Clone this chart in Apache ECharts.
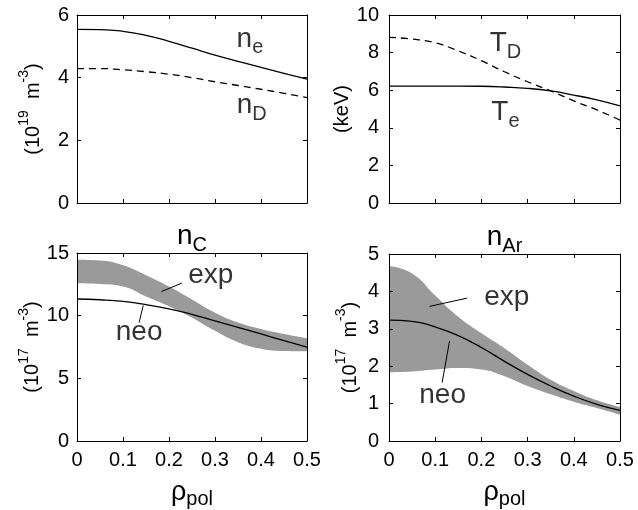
<!DOCTYPE html>
<html>
<head>
<meta charset="utf-8">
<script src="https://cdn.jsdelivr.net/npm/echarts@6/dist/echarts.min.js"></script>
<style>
  html, body { margin: 0; padding: 0; background: #fff; }
  #chart { width: 638px; height: 510px; }
</style>
</head>
<body>
<div id="chart"></div>
<script>
// radial coordinate
const rho = [0, 0.05, 0.1, 0.15, 0.2, 0.25, 0.3, 0.35, 0.4, 0.45, 0.5];

// densities (10^19 m^-3)
const neVals = [5.54, 5.535, 5.48, 5.35, 5.16, 4.94, 4.72, 4.52, 4.33, 4.14, 3.95];
const nDVals = [4.29, 4.29, 4.25, 4.19, 4.11, 4.00, 3.87, 3.75, 3.63, 3.50, 3.36];

// temperatures (keV)
const teVals = [6.22, 6.22, 6.22, 6.22, 6.21, 6.17, 6.10, 5.96, 5.74, 5.48, 5.16];
const tdVals = [8.81, 8.72, 8.52, 8.09, 7.57, 6.98, 6.45, 5.96, 5.43, 4.95, 4.41];

// carbon (10^17 m^-3)
const nCNeo = [11.33, 11.27, 11.14, 10.88, 10.55, 10.10, 9.58, 9.06, 8.54, 8.01, 7.49];
const nCUp  = [14.46, 14.40, 14.02, 13.23, 12.32, 11.28, 10.23, 9.45, 8.93, 8.54, 8.20];
const nCLo  = [12.58, 12.53, 12.32, 11.53, 10.75, 9.84, 8.79, 7.88, 7.36, 7.18, 7.15];

// argon (10^17 m^-3)
const nArNeo = [3.23, 3.20, 3.05, 2.82, 2.50, 2.13, 1.78, 1.47, 1.20, 0.98, 0.82];
const nArUp  = [4.68, 4.48, 3.89, 3.32, 2.88, 2.48, 2.04, 1.64, 1.34, 1.09, 0.91];
const nArLo  = [1.84, 1.86, 1.91, 1.95, 1.91, 1.73, 1.47, 1.25, 1.05, 0.88, 0.70];

// axis ranges [min, max, interval]
const yRanges = [[0, 6, 2], [0, 10, 2], [0, 15, 5], [0, 5, 1]];
const yNames = [
  "{t|(10}{sup|19}{t|  m}{sup|-3}{t|)}",
  "{t|(keV)}",
  "{t|(10}{sup|17}{t|  m}{sup|-3}{t|)}",
  "{t|(10}{sup|17}{t|  m}{sup|-3}{t|)}",
];
const topTitles = ["", "", "{n|n}{sub|C}", "{n|n}{sub|Ar}"];

// in-plot labels: [panel, text, rho, value]
const labels = [
  [0, "{n|n}{sub|e}", 0.376, 5.16],
  [0, "{n|n}{sub|D}", 0.380, 3.03],
  [1, "{n|T}{sub|D}", 0.252, 8.34],
  [1, "{n|T}{sub|e}", 0.252, 4.70],
  [2, "{big|exp}", 0.291, 13.22],
  [2, "{big|neo}", 0.135, 8.68],
  [3, "{big|exp}", 0.255, 3.85],
  [3, "{big|neo}", 0.116, 1.21],
];
// leader lines: [panel, rho1, v1, rho2, v2]
const leaders = [
  [2, 0.184, 11.93, 0.228, 12.60],
  [2, 0.144, 10.81, 0.135, 9.45],
  [3, 0.088, 3.60, 0.169, 3.82],
  [3, 0.131, 2.67, 0.115, 1.56],
];

const FONT = '"Liberation Sans", Arial, Helvetica, sans-serif';
const rich = {
  t: { fontSize: 20, fontFamily: FONT, color: "#000", verticalAlign: "bottom" },
  sup: { fontSize: 14, fontFamily: FONT, color: "#000", verticalAlign: "top", padding: [0, 0, 12, 0] },
  n: { fontSize: 28, fontFamily: FONT, color: "#000", verticalAlign: "top" },
  sub: { fontSize: 20, fontFamily: FONT, color: "#000", verticalAlign: "bottom", padding: [13, 0, 0, 0] },
  big: { fontSize: 28, fontFamily: FONT, color: "#000" },
  rho: { fontSize: 27, fontFamily: FONT, color: "#000", verticalAlign: "top" },
  pol: { fontSize: 20, fontFamily: FONT, color: "#000", verticalAlign: "bottom", padding: [10, 0, 0, 0] },
};

const grids = [
  { left: 77, top: 15, width: 230, height: 188 },
  { left: 389, top: 15, width: 231, height: 188 },
  { left: 77, top: 253, width: 230, height: 191 },
  { left: 389, top: 254, width: 231, height: 190 },
];

const axisLine = { show: true, onZero: false, lineStyle: { color: "#000", width: 1 } };
const tick = { show: true, inside: true, length: 4, lineStyle: { color: "#000" } };
const tickLabel = { color: "#000", fontSize: 20, fontFamily: FONT };

const xAxis = [];
const yAxis = [];
grids.forEach((g, i) => {
  const bottomPanel = i >= 2;
  xAxis.push({
    gridIndex: i, type: "value", position: "bottom", min: 0, max: 0.5, interval: 0.1, z: 10,
    axisLine, axisTick: tick, splitLine: { show: false },
    axisLabel: { show: bottomPanel, margin: 9, ...tickLabel },
    name: bottomPanel ? "{rho|ρ}{pol|pol}" : "", nameLocation: "middle", nameGap: 38,
    nameTextStyle: { rich },
  });
  xAxis.push({
    gridIndex: i, type: "value", position: "top", min: 0, max: 0.5, interval: 0.1, z: 10,
    axisLine, axisTick: tick, splitLine: { show: false }, axisLabel: { show: false },
    name: topTitles[i], nameLocation: "middle", nameGap: -2, nameTextStyle: { rich },
  });
  const r = yRanges[i];
  yAxis.push({
    gridIndex: i, type: "value", position: "left", min: r[0], max: r[1], interval: r[2], z: 10,
    axisLine, axisTick: tick, splitLine: { show: false },
    axisLabel: { margin: i % 2 ? 10 : 8, ...tickLabel },
    name: yNames[i], nameLocation: "middle", nameRotate: 90, nameGap: i % 2 ? 29 : 34,
    nameTextStyle: { rich },
  });
  yAxis.push({
    gridIndex: i, type: "value", position: "right", min: r[0], max: r[1], interval: r[2], z: 10,
    axisLine, axisTick: tick, splitLine: { show: false }, axisLabel: { show: false },
  });
});

const pairs = (ys) => rho.map((x, k) => [x, ys[k]]);

function line(panel, ys, dashed) {
  return {
    type: "line", xAxisIndex: panel * 2, yAxisIndex: panel * 2,
    data: pairs(ys), smooth: 0.5, symbol: "none", silent: true, z: 5,
    lineStyle: { color: "#000", width: 1.3, type: dashed ? [7, 5] : "solid" },
  };
}

// grey band: upper edge filled grey down to the axis, lower edge filled white over it
function band(panel, up, lo) {
  const edge = (ys, color, z) => ({
    type: "line", xAxisIndex: panel * 2, yAxisIndex: panel * 2,
    data: pairs(ys), smooth: 0.5, symbol: "none", silent: true, z,
    lineStyle: { width: 0, opacity: 0 }, areaStyle: { color, opacity: 1, origin: "start" },
  });
  return [edge(up, "#9a9a9a", 2), edge(lo, "#ffffff", 3)];
}

function textLayer(panel) {
  return {
    type: "scatter", xAxisIndex: panel * 2, yAxisIndex: panel * 2,
    symbolSize: 1, itemStyle: { color: "transparent" }, silent: true, z: 10,
    data: labels.filter(l => l[0] === panel).map(l => ({
      value: [l[2], l[3]],
      label: { show: true, position: "inside", color: "#000", formatter: l[1], rich },
    })),
    markLine: {
      silent: true, symbol: "none", label: { show: false },
      lineStyle: { color: "#000", width: 1, type: "solid" },
      data: leaders.filter(l => l[0] === panel).map(l => [
        { coord: [l[1], l[2]] }, { coord: [l[3], l[4]] },
      ]),
    },
  };
}

const series = [
  line(0, neVals, false),
  line(0, nDVals, true),
  line(1, teVals, false),
  line(1, tdVals, true),
  ...band(2, nCUp, nCLo),
  line(2, nCNeo, false),
  ...band(3, nArUp, nArLo),
  line(3, nArNeo, false),
  textLayer(0), textLayer(1), textLayer(2), textLayer(3),
];

const chart = echarts.init(document.getElementById("chart"), null, { renderer: "canvas" });
chart.setOption({
  backgroundColor: "#fff",
  animation: false,
  textStyle: { fontFamily: FONT },
  grid: grids,
  xAxis,
  yAxis,
  series,
});
</script>
</body>
</html>
